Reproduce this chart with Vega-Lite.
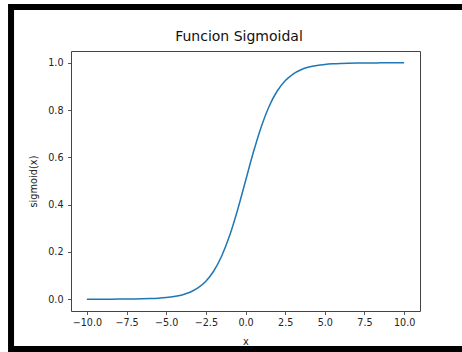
{
  "$schema": "https://vega.github.io/schema/vega-lite/v6.json",
  "width": 349,
  "height": 260,
  "autosize": {"type": "none"},
  "padding": {"left": 71, "top": 51, "right": 42, "bottom": 41},
  "background": "white",
  "config": {
    "view": {"stroke": "#444", "strokeWidth": 1},
    "font": "DejaVu Sans",
    "axis": {
      "grid": false,
      "domain": false,
      "tickColor": "#444",
      "tickWidth": 0.9,
      "tickSize": 3.5,
      "labelFont": "DejaVu Sans",
      "labelFontSize": 9.6,
      "labelColor": "#222",
      "titleFont": "DejaVu Sans",
      "titleFontSize": 9.8,
      "titleFontWeight": "normal",
      "titleColor": "#222"
    }
  },
  "title": {
    "text": "Funcion Sigmoidal",
    "font": "DejaVu Sans",
    "fontSize": 14,
    "fontWeight": "normal",
    "color": "#111",
    "anchor": "middle",
    "frame": "group",
    "dx": -6.5,
    "offset": -40
  },
  "data": {
    "values": [
      {"x": -10, "y": 0.0000454},
      {"x": -9.5, "y": 0.0000749},
      {"x": -9, "y": 0.0001234},
      {"x": -8.5, "y": 0.0002034},
      {"x": -8, "y": 0.0003354},
      {"x": -7.5, "y": 0.0005528},
      {"x": -7, "y": 0.000911},
      {"x": -6.5, "y": 0.001501},
      {"x": -6, "y": 0.002473},
      {"x": -5.5, "y": 0.00407},
      {"x": -5, "y": 0.006693},
      {"x": -4.5, "y": 0.010987},
      {"x": -4, "y": 0.017986},
      {"x": -3.5, "y": 0.029312},
      {"x": -3, "y": 0.047426},
      {"x": -2.5, "y": 0.075858},
      {"x": -2, "y": 0.119203},
      {"x": -1.5, "y": 0.182426},
      {"x": -1, "y": 0.268941},
      {"x": -0.5, "y": 0.377541},
      {"x": 0, "y": 0.5},
      {"x": 0.5, "y": 0.622459},
      {"x": 1, "y": 0.731059},
      {"x": 1.5, "y": 0.817574},
      {"x": 2, "y": 0.880797},
      {"x": 2.5, "y": 0.924142},
      {"x": 3, "y": 0.952574},
      {"x": 3.5, "y": 0.970688},
      {"x": 4, "y": 0.982014},
      {"x": 4.5, "y": 0.989013},
      {"x": 5, "y": 0.993307},
      {"x": 5.5, "y": 0.99593},
      {"x": 6, "y": 0.997527},
      {"x": 6.5, "y": 0.998499},
      {"x": 7, "y": 0.999089},
      {"x": 7.5, "y": 0.999447},
      {"x": 8, "y": 0.999665},
      {"x": 8.5, "y": 0.999797},
      {"x": 9, "y": 0.999877},
      {"x": 9.5, "y": 0.999925},
      {"x": 10, "y": 0.999955}
    ]
  },
  "layer": [
    {
      "mark": {"type": "line", "color": "#1f77b4", "strokeWidth": 1.5, "interpolate": "monotone"},
      "encoding": {
        "x": {
          "field": "x",
          "type": "quantitative",
          "scale": {"domain": [-11, 11], "nice": false, "zero": false},
          "axis": {
            "values": [-10, -7.5, -5, -2.5, 0, 2.5, 5, 7.5, 10],
            "format": ".1f",
            "labelPadding": 3,
            "labelFlush": false,
            "title": "x",
            "titlePadding": 9
          }
        },
        "y": {
          "field": "y",
          "type": "quantitative",
          "scale": {"domain": [-0.05, 1.05], "nice": false, "zero": false},
          "axis": {
            "values": [0, 0.2, 0.4, 0.6, 0.8, 1.0],
            "format": ".1f",
            "labelPadding": 4.5,
            "labelFlush": false,
            "title": "sigmoid(x)",
            "titlePadding": 9
          }
        }
      }
    },
    {
      "data": {"values": [{"frame": "border"}]},
      "mark": {"type": "rect", "fill": null, "fillOpacity": 0, "stroke": "black", "strokeWidth": 6, "clip": false},
      "encoding": {
        "x": {"datum": -14.78, "type": "quantitative"},
        "x2": {"datum": 18},
        "y": {"datum": 1.236, "type": "quantitative"},
        "y2": {"datum": -0.211}
      }
    }
  ]
}
